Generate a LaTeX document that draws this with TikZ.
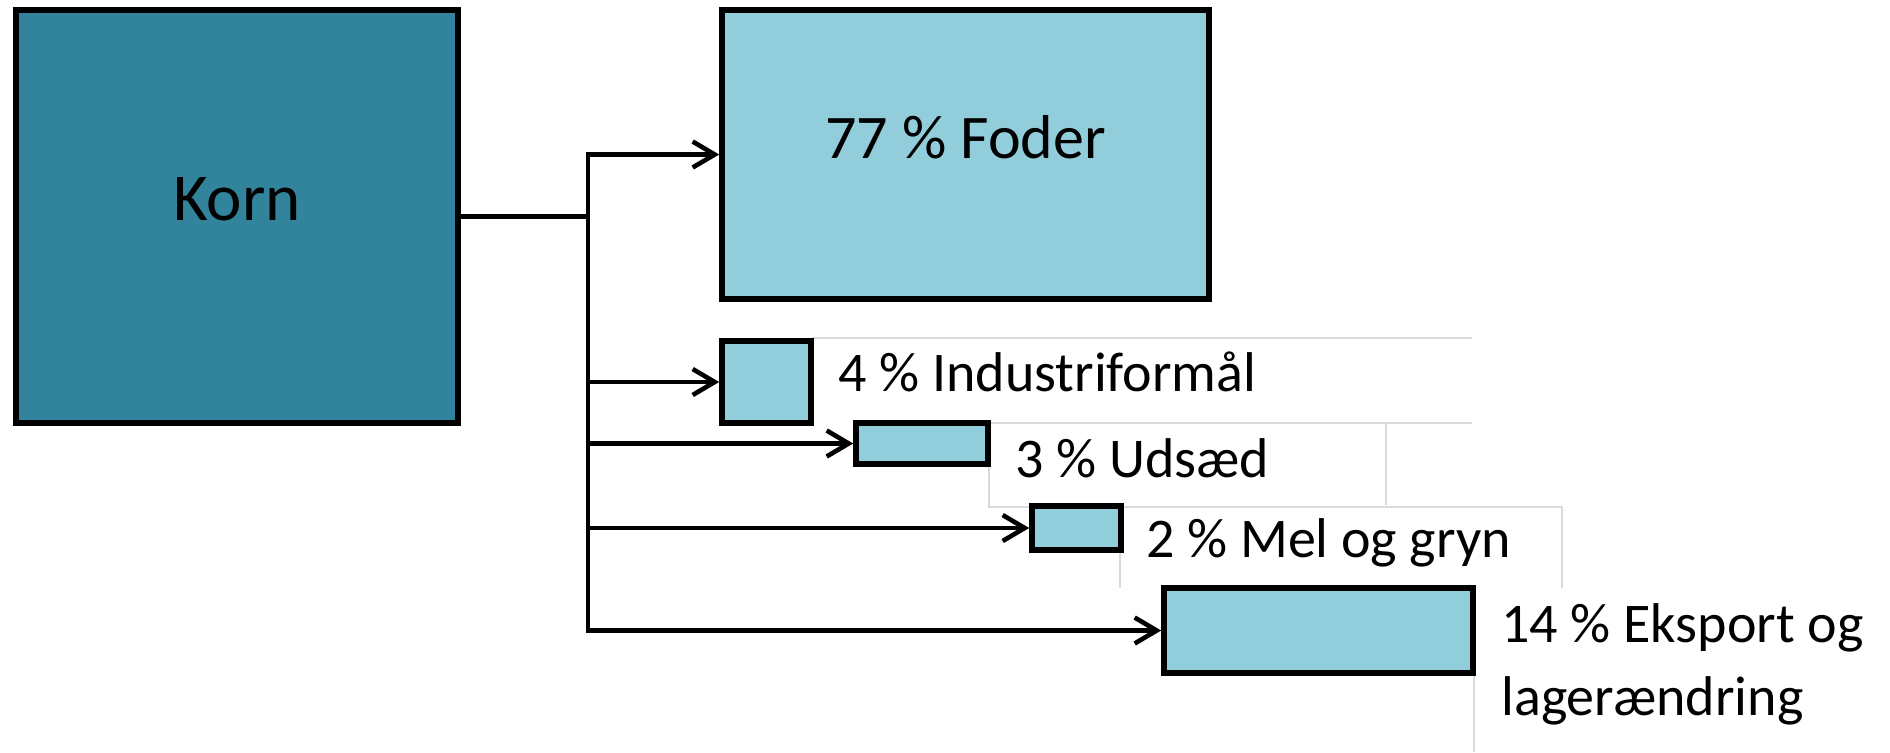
\documentclass[tikz,border=0pt]{standalone}
\usepackage{fontspec}
\setmainfont{Carlito}
\usetikzlibrary{arrows.meta}
\definecolor{korncol}{HTML}{31849B}
\definecolor{partcol}{HTML}{92CDDC}
\definecolor{gridgray}{HTML}{D9D9D9}
\begin{document}
\begin{tikzpicture}[x=0.5pt,y=-0.5pt,
  box/.style={draw=black,line width=2.8pt,inner sep=0pt,fill=partcol},
  lab/.style={anchor=base west,inner sep=0pt,font=\fontsize{28}{36.5}\selectfont,align=left},
  conn/.style={line width=2.3pt},
  flow/.style={conn,-{Straight Barb[length=11pt,width=13pt,line width=2.3pt]}},
  guide/.style={draw=gridgray,line width=1.2pt}]
\useasboundingbox (0,0) rectangle (1890,752);
% faint guide lines
\draw[guide] (812,338) -- (1472,338);
\draw[guide] (990,423) -- (1472,423);
\draw[guide] (1386,423) -- (1386,505);
\draw[guide] (989,464) -- (989,507) -- (1562,507) -- (1562,588);
\draw[guide] (1120,550) -- (1120,588);
\draw[guide] (1474,673) -- (1474,752);
% boxes
\node[box,fill=korncol,minimum width=221pt,minimum height=206.5pt,font=\fontsize{33.5}{40}\selectfont] (korn) at (237,216.5) {\raisebox{18pt}{Korn}};
\node[box,minimum width=243.5pt,minimum height=144.5pt,font=\fontsize{31}{38}\selectfont] (foder) at (965.5,154.5) {\raisebox{18pt}{77 \% Foder}};
\node[box,minimum width=44.5pt,minimum height=41pt] (ind) at (766.5,382) {};
\node[box,minimum width=66pt,minimum height=20.5pt] (uds) at (922,443.5) {};
\node[box,minimum width=44.5pt,minimum height=22pt] (mel) at (1076.5,528) {};
\node[box,minimum width=154.5pt,minimum height=42.5pt] (eks) at (1318.5,630.5) {};
% labels
\node[lab] (indl) at (838,391) {4 \% Industriformål};
\node[lab] (udsl) at (1015,477) {3 \% Udsæd};
\node[lab] (mell) at (1146,557) {2 \% Mel og gryn};
\node[lab] (eksl) at (1501,715) {14 \% Eksport og\\lagerændring};
% connectors
\coordinate (tr) at (588,0);
\draw[conn] (korn.east) -- (korn.east -| tr);
\draw[conn,line cap=rect] (tr |- foder.west) -- (tr |- eks.west);
\draw[flow] (tr |- foder.west) -- (foder.west);
\draw[flow] (tr |- ind.west) -- (ind.west);
\draw[flow] (tr |- uds.west) -- (uds.west);
\draw[flow] (tr |- mel.west) -- (mel.west);
\draw[flow] (tr |- eks.west) -- (eks.west);
\end{tikzpicture}
\end{document}
